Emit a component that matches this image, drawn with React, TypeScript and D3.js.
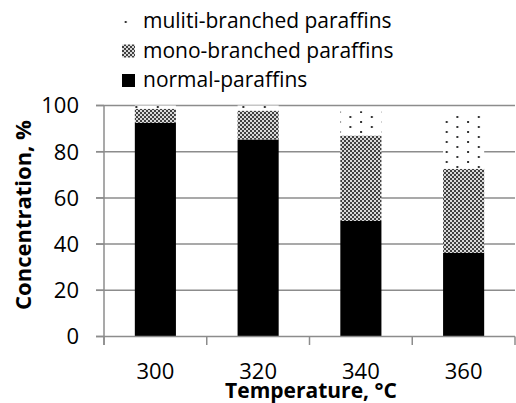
import React, { useEffect, useRef } from 'react';
import * as d3 from 'd3';

const categories = ['300', '320', '340', '360'];
const normalParaffins = [92.5, 85.3, 50.0, 36.2];
const monoBranched = [6.1, 12.5, 37.0, 36.4];
const multiBranched = [1.4, 2.2, 10.5, 23.4];
const yTicks = [0, 20, 40, 60, 80, 100];
const seriesNames = ['muliti-branched paraffins', 'mono-branched paraffins', 'normal-paraffins'];

const W = 516;
const H = 403;
const FONT = '"Open Sans", "Liberation Sans", sans-serif';
const GRID = '#8c8c8c';

const App: React.FC = () => {
  const ref = useRef<SVGSVGElement>(null);

  useEffect(() => {
    if (!ref.current) return;
    const svg = d3.select(ref.current);
    svg.selectAll('*').remove();

    const x = d3.scaleBand().domain(categories).range([104, 515]).paddingInner(0.6).paddingOuter(0.3);
    const y = d3.scaleLinear().domain([0, 100]).range([336.5, 105.5]);

    const defs = svg.append('defs');

    // mono-branched: fine checker
    const mono = defs.append('pattern')
      .attr('id', 'mono')
      .attr('patternUnits', 'userSpaceOnUse')
      .attr('width', 4)
      .attr('height', 4);
    mono.append('rect').attr('width', 4).attr('height', 4).attr('fill', '#d9d9d9');
    mono.append('rect').attr('width', 2).attr('height', 2).attr('fill', '#404040');
    mono.append('rect').attr('x', 2).attr('y', 2).attr('width', 2).attr('height', 2).attr('fill', '#404040');

    // multi-branched: sparse staggered dots
    const multi = defs.append('pattern')
      .attr('id', 'multi')
      .attr('patternUnits', 'userSpaceOnUse')
      .attr('width', 21.4)
      .attr('height', 10)
      .attr('x', 6)
      .attr('y', 5);
    multi.append('rect').attr('width', 21.4).attr('height', 10).attr('fill', '#fff');
    multi.append('rect').attr('x', 1).attr('y', 1).attr('width', 2).attr('height', 2).attr('fill', '#333');
    multi.append('rect').attr('x', 11.7).attr('y', 6).attr('width', 2).attr('height', 2).attr('fill', '#333');

    // gridlines
    svg.append('g')
      .selectAll('line')
      .data(yTicks.filter(t => t > 0))
      .join('line')
      .attr('x1', 96)
      .attr('x2', 515)
      .attr('y1', d => y(d))
      .attr('y2', d => y(d))
      .attr('stroke', GRID)
      .attr('stroke-width', 1.5);

    // bars
    const stacks = categories.map((c, i) => {
      const n = normalParaffins[i];
      const m = monoBranched[i];
      const u = multiBranched[i];
      return [
        { c, y0: 0, y1: n, fill: '#000' },
        { c, y0: n, y1: n + m, fill: 'url(#mono)' },
        { c, y0: n + m, y1: n + m + u, fill: 'url(#multi)' },
      ];
    }).flat();

    svg.append('g')
      .selectAll('rect')
      .data(stacks)
      .join('rect')
      .attr('x', d => x(d.c)!)
      .attr('width', x.bandwidth())
      .attr('y', d => y(d.y1))
      .attr('height', d => y(d.y0) - y(d.y1))
      .attr('fill', d => d.fill);

    // y axis
    const yAxis = svg.append('g');
    yAxis.append('line')
      .attr('x1', 104).attr('x2', 104)
      .attr('y1', y(100)).attr('y2', 345)
      .attr('stroke', GRID).attr('stroke-width', 1.5);
    yAxis.selectAll('line.tick')
      .data(yTicks)
      .join('line')
      .attr('class', 'tick')
      .attr('x1', 96).attr('x2', 104)
      .attr('y1', d => y(d)).attr('y2', d => y(d))
      .attr('stroke', GRID).attr('stroke-width', 1.5);
    yAxis.selectAll('text')
      .data(yTicks)
      .join('text')
      .attr('x', 79)
      .attr('y', d => y(d))
      .attr('dy', '0.36em')
      .attr('text-anchor', 'end')
      .style('font-family', FONT)
      .style('font-size', '22px')
      .attr('fill', '#000')
      .text(d => d);

    // x axis
    const xAxis = svg.append('g');
    xAxis.append('line')
      .attr('x1', 96).attr('x2', 515)
      .attr('y1', y(0)).attr('y2', y(0))
      .attr('stroke', GRID).attr('stroke-width', 1.5);
    const step = x.step();
    const edges = categories.map(c => x(c)! - (step - x.bandwidth()) / 2).concat([515]);
    xAxis.selectAll('line.tick')
      .data(edges)
      .join('line')
      .attr('class', 'tick')
      .attr('x1', d => d).attr('x2', d => d)
      .attr('y1', y(0)).attr('y2', 345)
      .attr('stroke', GRID).attr('stroke-width', 1.5);
    xAxis.selectAll('text')
      .data(categories)
      .join('text')
      .attr('x', d => x(d)! + x.bandwidth() / 2)
      .attr('y', 379)
      .attr('text-anchor', 'middle')
      .style('font-family', FONT)
      .style('font-size', '22px')
      .attr('fill', '#000')
      .text(d => d);

    // axis titles
    svg.append('text')
      .attr('x', 311)
      .attr('y', 398)
      .attr('text-anchor', 'middle')
      .style('font-family', FONT)
      .style('font-size', '21px')
      .style('font-weight', 'bold')
      .text('Temperature, °C');

    svg.append('text')
      .attr('transform', 'translate(31,215) rotate(-90)')
      .attr('text-anchor', 'middle')
      .style('font-family', FONT)
      .style('font-size', '22px')
      .style('font-weight', 'bold')
      .text('Concentration, %');

    // legend
    const legendFills = ['url(#multi)', 'url(#mono)', '#000'];
    const legend = svg.append('g');
    seriesNames.forEach((name, i) => {
      const base = 28 + i * 29.5;
      legend.append('rect')
        .attr('x', 122)
        .attr('y', base - 13)
        .attr('width', 13)
        .attr('height', 13)
        .attr('fill', legendFills[i]);
      legend.append('text')
        .attr('x', 143)
        .attr('y', base)
        .style('font-family', FONT)
        .style('font-size', '21px')
        .attr('fill', '#000')
        .text(name);
    });
  }, []);

  return (
    <div style={{ position: 'absolute', left: 0, top: 0 }}>
      <svg ref={ref} width={W} height={H} style={{ display: 'block', background: '#fff' }} />
    </div>
  );
};

export default App;
